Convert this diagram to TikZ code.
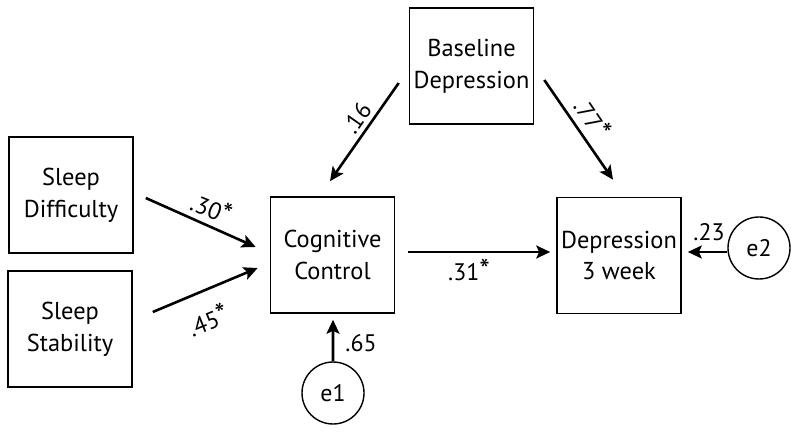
\documentclass[tikz,border=0pt]{standalone}
\usepackage{fontspec}
\setmainfont{PT Sans}
\usetikzlibrary{arrows.meta,calc}
\newcommand{\sigstar}{{\fontsize{30}{30}\selectfont *}}
\begin{document}
\begin{tikzpicture}[x=1bp,y=-1bp,
  box/.style={draw,line width=1.6bp,minimum width=124bp,minimum height=116bp,inner sep=0pt,align=center,font=\fontsize{24.5}{32}\selectfont},
  err/.style={draw,circle,line width=1.4bp,minimum size=62bp,inner sep=0pt,font=\fontsize{24}{26}\selectfont},
  arr/.style={line width=2.6bp,-{Stealth[length=14bp,width=13bp,inset=3bp]}},
  lbl/.style={font=\fontsize{24}{26}\selectfont,inner sep=0pt}]
\useasboundingbox (0,0) rectangle (800,438);
\node[box] (BD) at (471.5,66) {Baseline\\Depression};
\node[box] (CC) at (332.5,255) {Cognitive\\Control};
\node[box] (D3) at (619,255.5) {Depression\\3 week};
\node[box] (SD) at (71,195) {Sleep\\Difficulty};
\node[box] (SS) at (70,329) {Sleep\\Stability};
\node[err] (e1) at (333,393) {e1};
\node[err] (e2) at (759,248) {e2};
\draw[arr] ($(SD.east)+(12,3)$) -- ($(CC.west)+(-14,-8)$);
\draw[arr] ($(SS.east)+(20,-17)$) -- ($(CC.west)+(-12,13)$);
\draw[arr] ($(BD.west)+(-10,17)$) -- ($(CC.north)+(-2.5,-15)$);
\draw[arr] ($(BD.east)+(10,14)$) -- ($(D3.north)+(-6,-17)$);
\draw[arr] ($(CC.east)+(13,-3)$) -- ($(D3.west)+(-6,-3.5)$);
\draw[arr] ($(e2.west)+(0,4)$) -- ($(D3.east)+(6,-3.5)$);
\draw[arr] (e1.north) -- ($(CC.south)+(0.5,6)$);
\node[lbl,rotate=-22] (l30) at (212,208) {.30\sigstar};
\node[lbl,rotate=22] (l45) at (208,320) {.45\sigstar};
\node[lbl,rotate=55] (l16) at (357,118) {.16};
\node[lbl,rotate=-56] (l77) at (593,118) {.77\sigstar};
\node[lbl] (l31) at (469,270) {.31\sigstar};
\node[lbl] (l23) at (709,232) {.23};
\node[lbl] (l65) at (361,343) {.65};
\end{tikzpicture}
\end{document}
